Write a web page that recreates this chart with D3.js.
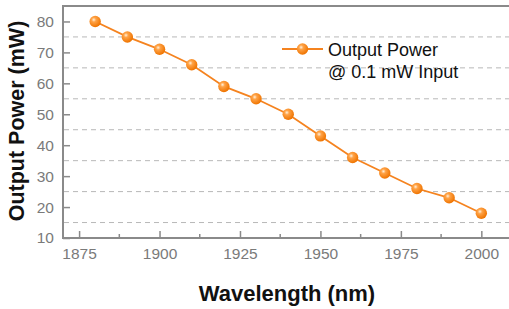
<!DOCTYPE html>
<html><head><meta charset="utf-8">
<script src="https://cdn.jsdelivr.net/npm/d3@7/dist/d3.min.js"></script>
<style>
html,body{margin:0;padding:0;background:#fff;overflow:hidden;}
svg{display:block;font-family:"Liberation Sans",Arial,sans-serif;}
</style></head>
<body>
<svg id="chart" width="509" height="309"></svg>
<script>
const wavelengths = [1880,1890,1900,1910,1920,1930,1940,1950,1960,1970,1980,1990,2000];
const outputPower = [80,75,71,66,59,55,50,43,36,31,26,23,18];
const xTicks = [1875,1900,1925,1950,1975,2000];
const xMinorTicks = [1887.5,1912.5,1937.5,1962.5,1987.5];
const yTicks = [10,20,30,40,50,60,70,80];
const yGrid = [15,25,35,45,55,65,75];
const legendLines = ["Output Power","@ 0.1 mW Input"];

const svg = d3.select("#chart");
const L = 63, T = 6, B = 238, R = 513.5;
const x = d3.scaleLinear().domain([1870,2010]).range([L,R]);
const y = d3.scaleLinear().domain([10,85]).range([B,T]);
const axisCol = "#8a8a8a";
const orange = "#f5831f";

const defs = svg.append("defs");
const grad = defs.append("radialGradient").attr("id","ball").attr("cx","0.38").attr("cy","0.35").attr("r","0.65");
grad.append("stop").attr("offset","0").attr("stop-color","#fff1dc");
grad.append("stop").attr("offset","0.3").attr("stop-color","#ffa347");
grad.append("stop").attr("offset","1").attr("stop-color","#ef7400");

// gridlines
svg.append("g").selectAll("line").data(yGrid).join("line")
  .attr("x1",L+1).attr("x2",509).attr("y1",d=>y(d)).attr("y2",d=>y(d))
  .attr("stroke","#b8b8b8").attr("stroke-width",1).attr("stroke-dasharray","5,4");

// top border
svg.append("line").attr("x1",L).attr("x2",509).attr("y1",T).attr("y2",T)
  .attr("stroke",axisCol).attr("stroke-width",2);

// x axis
const xAxis = svg.append("g").attr("transform",`translate(0,${B})`)
  .call(d3.axisBottom(x).tickValues(xTicks).tickSize(-7).tickPadding(10).tickFormat(d3.format("d")));
xAxis.select(".domain").remove();
xAxis.append("line").attr("x1",L-1).attr("x2",509).attr("y1",0).attr("y2",0).attr("stroke",axisCol).attr("stroke-width",2);
xAxis.selectAll(".tick line").attr("stroke",axisCol).attr("stroke-width",1.5);
xAxis.selectAll(".tick text").attr("fill","#7a7a7a").attr("font-size","15.5px").attr("dy","0.71em").attr("y",10);
svg.append("g").attr("transform",`translate(0,${B})`).selectAll("line").data(xMinorTicks).join("line")
  .attr("x1",d=>x(d)).attr("x2",d=>x(d)).attr("y1",0).attr("y2",-4)
  .attr("stroke",axisCol).attr("stroke-width",1.5);

// y axis
const yAxis = svg.append("g").attr("transform",`translate(${L},0)`)
  .call(d3.axisLeft(y).tickValues(yTicks).tickSize(-7).tickPadding(9));
yAxis.select(".domain").remove();
yAxis.append("line").attr("x1",0).attr("x2",0).attr("y1",T-1).attr("y2",B+1).attr("stroke",axisCol).attr("stroke-width",2);
yAxis.selectAll(".tick line").attr("stroke",axisCol).attr("stroke-width",1.5);
yAxis.selectAll(".tick text").attr("fill","#7a7a7a").attr("font-size","15.5px");

// line
const pts = wavelengths.map((w,i)=>[w,outputPower[i]]);
svg.append("path").datum(pts)
  .attr("d",d3.line().x(d=>x(d[0])).y(d=>y(d[1])))
  .attr("fill","none").attr("stroke",orange).attr("stroke-width",1.8);
svg.append("g").selectAll("circle").data(pts).join("circle")
  .attr("cx",d=>x(d[0])).attr("cy",d=>y(d[1])).attr("r",5.7)
  .attr("fill","url(#ball)");

// legend
const lg = svg.append("g").attr("transform","translate(282,49)");
lg.append("line").attr("x1",0).attr("x2",41).attr("y1",0).attr("y2",0).attr("stroke",orange).attr("stroke-width",1.8);
lg.append("circle").attr("cx",20.5).attr("cy",0).attr("r",5.7).attr("fill","url(#ball)");
lg.selectAll("text").data(legendLines).join("text")
  .attr("x",46).attr("y",(d,i)=>7+i*22).attr("font-size","18px").attr("fill","#111").text(d=>d);

// titles
svg.append("text").attr("x",287).attr("y",301).attr("text-anchor","middle")
  .attr("font-size","22px").attr("font-weight","bold").attr("fill","#111").text("Wavelength (nm)");
svg.append("text").attr("transform","translate(24,121) rotate(-90)").attr("text-anchor","middle")
  .attr("font-size","21.5px").attr("font-weight","bold").attr("fill","#111").text("Output Power (mW)");
</script>
</body></html>
